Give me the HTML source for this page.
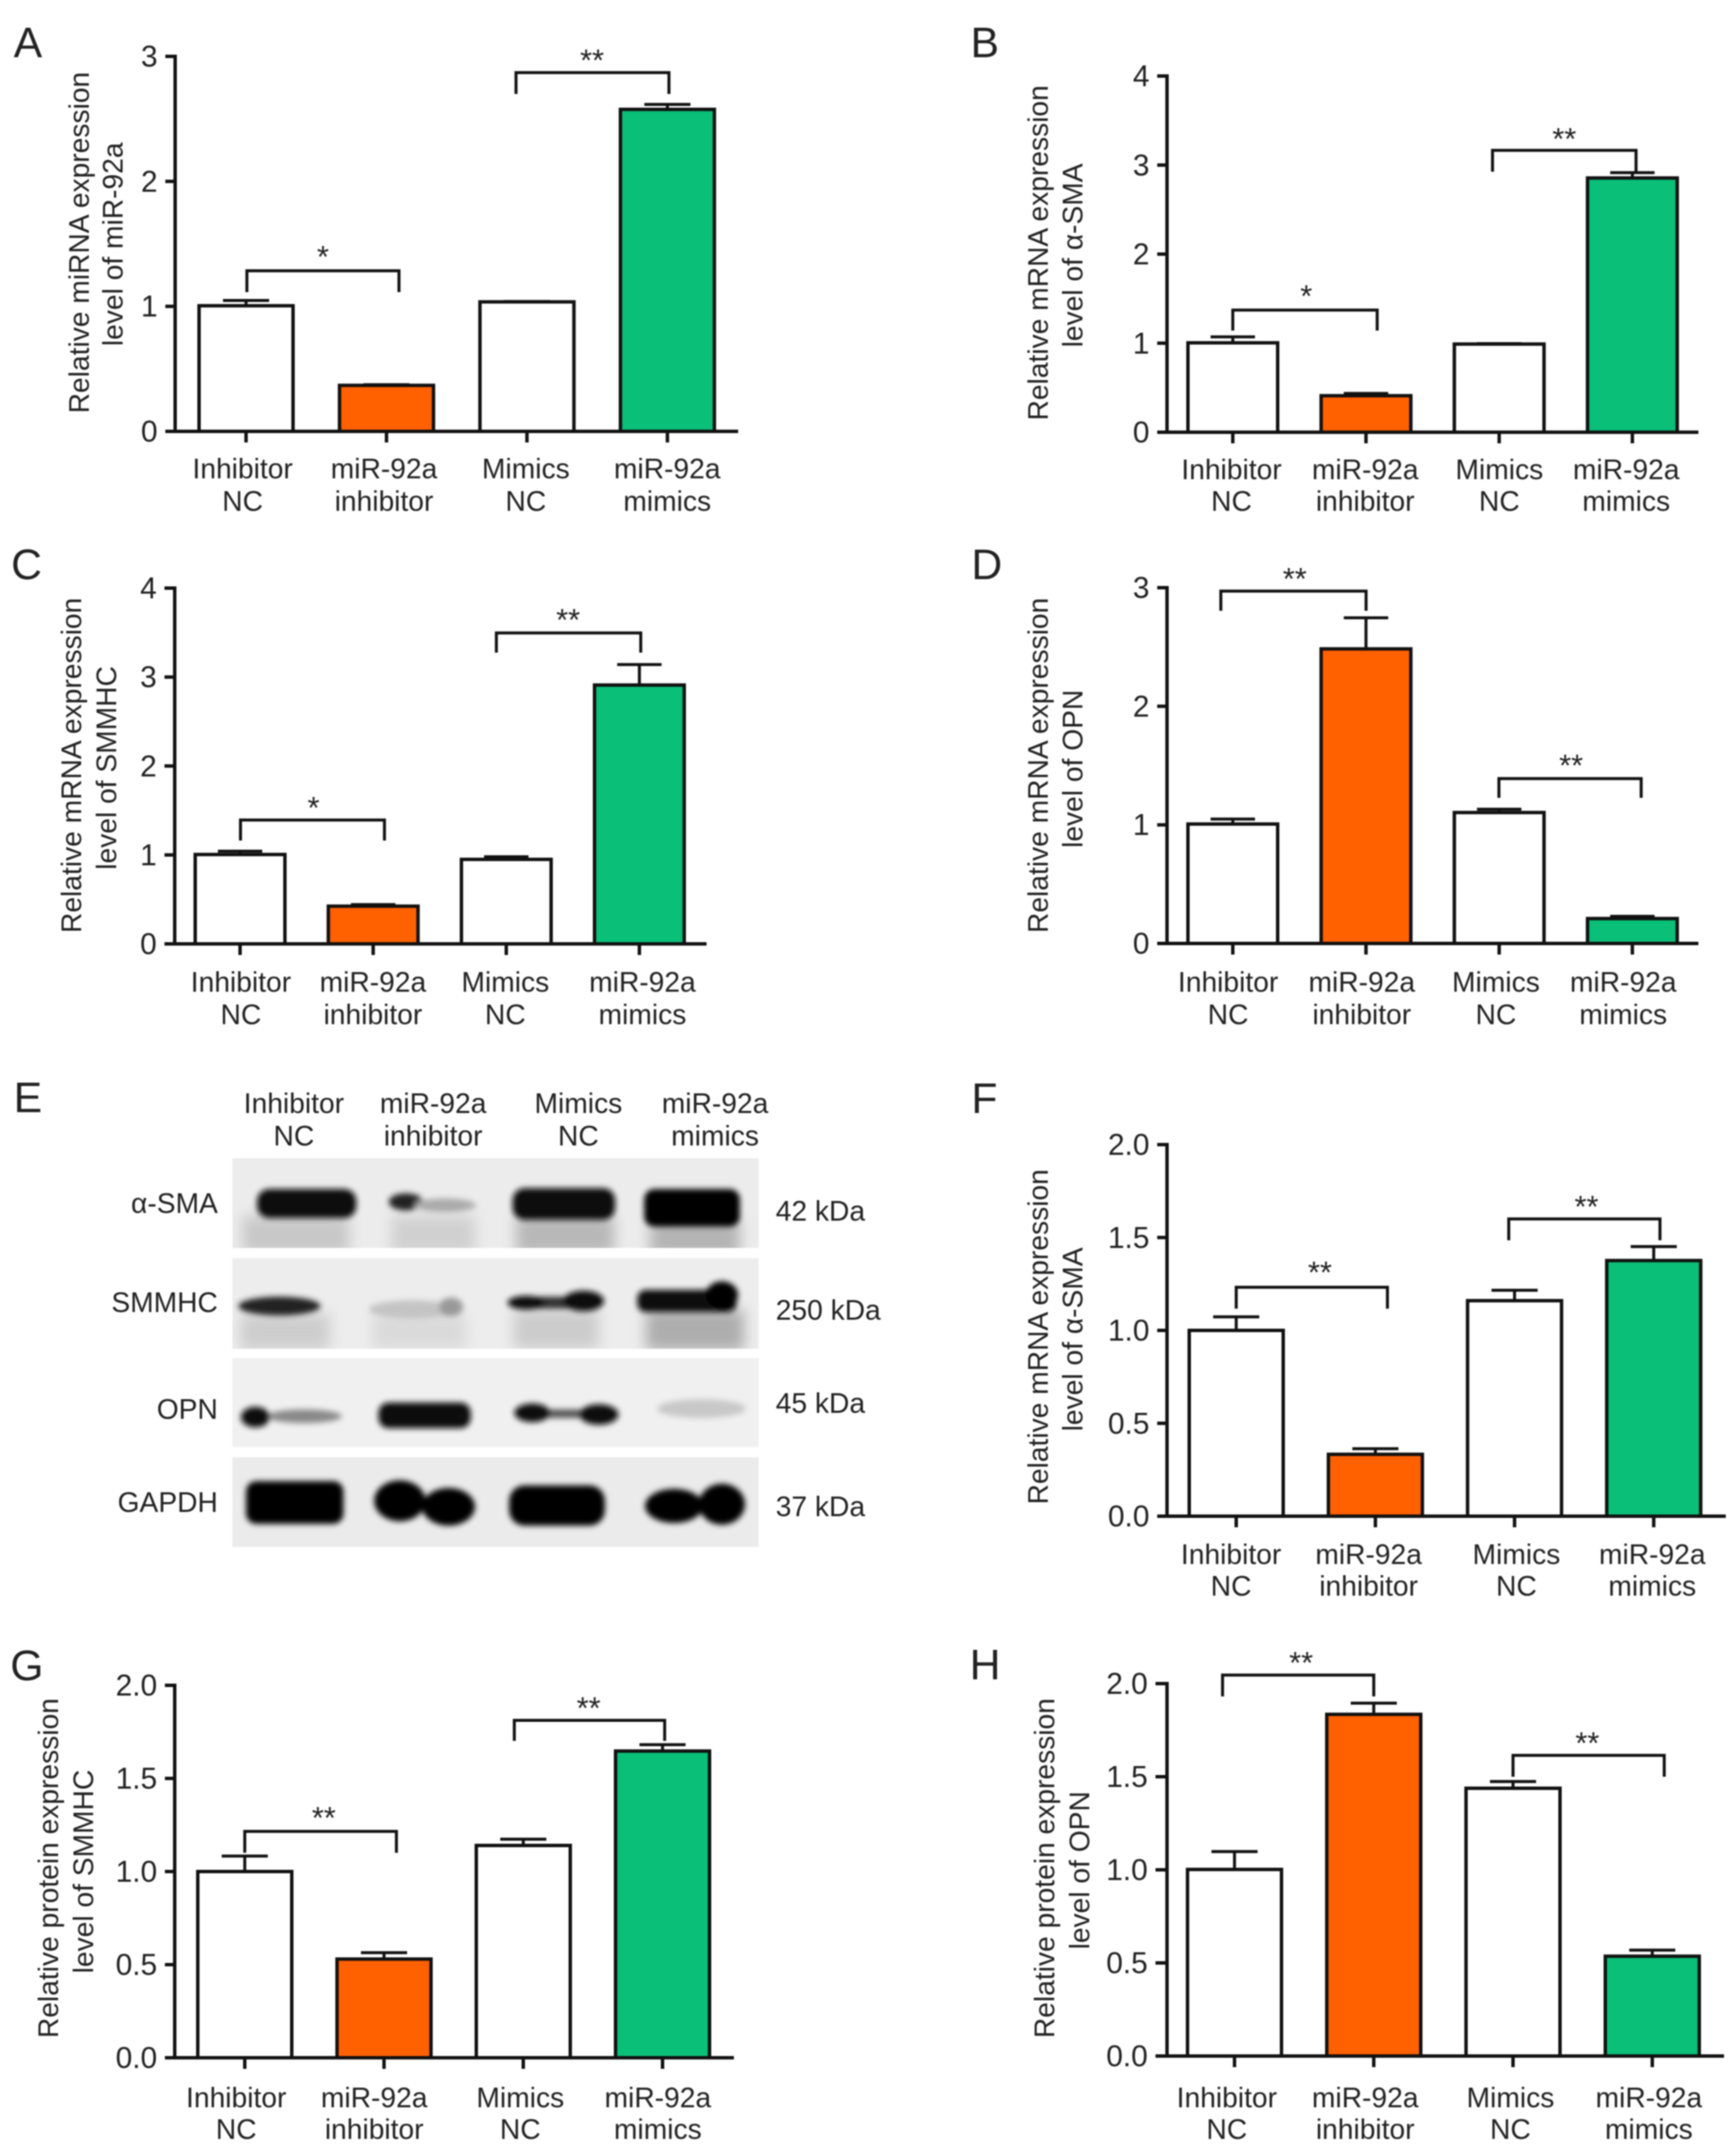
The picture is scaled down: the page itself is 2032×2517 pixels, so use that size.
<!DOCTYPE html>
<html lang="en">
<head>
<meta charset="utf-8">
<title>miR-92a expression figure</title>
<style>
html,body{margin:0;padding:0;background:#fff}
svg{display:block;font-family:"Liberation Sans",Arial,sans-serif}
#figure{filter:blur(.7px)}
text{fill:#222}
</style>
</head>
<body>
<svg id="figure" xmlns="http://www.w3.org/2000/svg" width="2032" height="2517" viewBox="0 0 2032 2517">
<defs>
<filter id="b2" x="-40%" y="-80%" width="180%" height="260%"><feGaussianBlur stdDeviation="3.5"/></filter>
<filter id="b8" x="-40%" y="-80%" width="180%" height="260%"><feGaussianBlur stdDeviation="8"/></filter>
</defs>
<rect width="2032" height="2517" fill="#fff"/>

<g id="panel-e">
<text x="16" y="1302" font-size="50">E</text>
<g font-size="33" text-anchor="middle">
<text x="344" y="1303">Inhibitor</text>
<text x="344" y="1341">NC</text>
<text x="507" y="1303">miR-92a</text>
<text x="507" y="1341">inhibitor</text>
<text x="677" y="1303">Mimics</text>
<text x="677" y="1341">NC</text>
<text x="837" y="1303">miR-92a</text>
<text x="837" y="1341">mimics</text>
</g>
<g font-size="33" text-anchor="end">
<text x="255" y="1420">α-SMA</text>
<text x="255" y="1536">SMMHC</text>
<text x="255" y="1661">OPN</text>
<text x="255" y="1770">GAPDH</text>
</g>
<g font-size="33">
<text x="908" y="1429">42 kDa</text>
<text x="908" y="1545">250 kDa</text>
<text x="908" y="1654">45 kDa</text>
<text x="908" y="1775">37 kDa</text>
</g>

<svg x="272" y="1356" width="616" height="105" viewBox="276 1358 616 105">
<rect x="276" y="1358" width="616" height="105" fill="#ececec"/>
<g filter="url(#b8)"><rect x="288" y="1425" width="125" height="45" fill="#c8c8c8"/><rect x="462" y="1425" width="98" height="45" fill="#d0d0d0"/><rect x="608" y="1425" width="115" height="45" fill="#b8b8b8"/><rect x="765" y="1430" width="105" height="42" fill="#b4b4b4"/></g>
<g filter="url(#b2)"><rect x="305" y="1394" width="116" height="34" rx="14" fill="#0a0a0a"/><ellipse cx="479" cy="1409" rx="20" ry="10" fill="#222"/><ellipse cx="525" cy="1413" rx="36" ry="8" fill="#aaa"/><rect x="604" y="1393" width="120" height="37" rx="14" fill="#0a0a0a"/><rect x="758" y="1394" width="112" height="44" rx="12" fill="#050505"/></g>
</svg>
<svg x="272" y="1473" width="616" height="106" viewBox="276 1475 616 106">
<rect x="276" y="1475" width="616" height="106" fill="#ededed"/>
<g filter="url(#b8)"><rect x="285" y="1540" width="105" height="42" fill="#cdcdcd"/><rect x="440" y="1540" width="110" height="42" fill="#dadada"/><rect x="605" y="1535" width="100" height="46" fill="#cccccc"/><rect x="760" y="1535" width="115" height="48" fill="#adadad"/></g>
<g filter="url(#b2)"><ellipse cx="331" cy="1531" rx="48" ry="11" fill="#222"/><ellipse cx="486" cy="1535" rx="50" ry="11" fill="#c4c4c4"/><ellipse cx="532" cy="1532" rx="14" ry="11" fill="#999"/><rect x="610" y="1520" width="84" height="14" rx="5" fill="#333"/><ellipse cx="620" cy="1527" rx="22" ry="8" fill="#111"/><ellipse cx="687" cy="1525" rx="24" ry="12" fill="#0a0a0a"/><rect x="750" y="1512" width="116" height="26" rx="10" fill="#0a0a0a"/><ellipse cx="849" cy="1518" rx="19" ry="16" fill="#050505"/></g>
</svg>
<svg x="272" y="1590" width="616" height="104" viewBox="276 1592 616 104">
<rect x="276" y="1592" width="616" height="104" fill="#f0f0f0"/>
<g filter="url(#b2)"><ellipse cx="360" cy="1660" rx="44" ry="8" fill="#888"/><ellipse cx="303" cy="1661" rx="17" ry="12" fill="#111"/><rect x="447" y="1644" width="108" height="30" rx="12" fill="#0d0d0d"/><rect x="625" y="1652" width="80" height="10" fill="#555"/><ellipse cx="627" cy="1656" rx="21" ry="11" fill="#111"/><ellipse cx="705" cy="1658" rx="23" ry="12" fill="#0d0d0d"/><ellipse cx="825" cy="1651" rx="52" ry="11" fill="#c8c8c8"/></g>
</svg>
<svg x="272" y="1706" width="616" height="105" viewBox="276 1708 616 105">
<rect x="276" y="1708" width="616" height="105" fill="#ebebeb"/>
<g filter="url(#b2)"><rect x="292" y="1736" width="114" height="50" rx="12" fill="#050505"/><ellipse cx="472" cy="1759" rx="30" ry="24" fill="#050505"/><ellipse cx="529" cy="1766" rx="31" ry="22" fill="#050505"/><rect x="600" y="1741" width="112" height="47" rx="18" fill="#050505"/><ellipse cx="793" cy="1765" rx="34" ry="20" fill="#050505"/><ellipse cx="849" cy="1763" rx="27" ry="24" fill="#050505"/></g>
</svg>
</g>
</svg>

<script>
// Shared chart data
const categoriesLine1 = ['Inhibitor', 'miR-92a', 'Mimics', 'miR-92a'];
const categoriesLine2 = ['NC', 'inhibitor', 'NC', 'mimics'];
const barColors = ['#ffffff', '#ff6000', '#ffffff', '#0abf78'];

const ticksToThree = ['0', '1', '2', '3'];
const ticksToFour = ['0', '1', '2', '3', '4'];
const ticksToTwoDecimal = ['0.0', '0.5', '1.0', '1.5', '2.0'];

const valuesA = [1.005, 0.368, 1.036, 2.576];
const errorsA = [0.042, 0.005, 0.003, 0.040];
const valuesB = [1.004, 0.410, 0.990, 2.855];
const errorsB = [0.067, 0.025, 0.005, 0.060];
const valuesC = [1.005, 0.424, 0.950, 2.910];
const errorsC = [0.037, 0.018, 0.030, 0.230];
const valuesD = [1.007, 2.484, 1.104, 0.210];
const errorsD = [0.042, 0.262, 0.028, 0.019];
const valuesF = [1.000, 0.333, 1.160, 1.376];
const errorsF = [0.073, 0.030, 0.056, 0.075];
const valuesG = [1.000, 0.530, 1.140, 1.647];
const errorsG = [0.083, 0.034, 0.034, 0.034];
const valuesH = [1.002, 1.835, 1.438, 0.536];
const errorsH = [0.096, 0.060, 0.036, 0.033];

const panels = [
  {key:'a', letter:'A', letterX:16, letterY:67, values:valuesA, errors:errorsA, ticks:ticksToThree,
   axisX:205, axisLeft:193.5, axisRight:864, yTop:66, y0:505, x0:288, step:164.4, barW:110, capW:54,
   title:['Relative miRNA expression','level of miR-92a'], titleX:[94,133.5], titleY:[284,286],
   labelX:[284,449.5,615.5,781], labelY:[551,589],
   brackets:[{x1:289,x2:467,top:317,bottom:342,text:'*',tx:378,ty:296},{x1:604,x2:783,top:85,bottom:110,text:'**',tx:693,ty:66}]},
  {key:'b', letter:'B', letterX:1136, letterY:67, values:valuesB, errors:errorsB, ticks:ticksToFour,
   axisX:1366, axisLeft:1354.5, axisRight:1988, yTop:89, y0:506, x0:1443, step:155.9, barW:105, capW:52,
   title:['Relative mRNA expression','level of α-SMA'], titleX:[1216.5,1257], titleY:[296,299],
   labelX:[1441.5,1598,1755,1903.5], labelY:[552,589],
   brackets:[{x1:1443,x2:1612,top:363,bottom:387,text:'*',tx:1529,ty:342},{x1:1747,x2:1915,top:176,bottom:201,text:'**',tx:1831,ty:158}]},
  {key:'c', letter:'C', letterX:13, letterY:678, values:valuesC, errors:errorsC, ticks:ticksToFour,
   axisX:204.5, axisLeft:192.5, axisRight:827, yTop:688.5, y0:1105, x0:281, step:155.8, barW:105, capW:52,
   title:['Relative mRNA expression','level of SMMHC'], titleX:[85,126], titleY:[896,899],
   labelX:[282,436.5,591.5,752], labelY:[1152,1190],
   brackets:[{x1:281.5,x2:450,top:960,bottom:984,text:'*',tx:367,ty:941},{x1:581,x2:750,top:741,bottom:764,text:'**',tx:665,ty:721}]},
  {key:'d', letter:'D', letterX:1137, letterY:678, values:valuesD, errors:errorsD, ticks:ticksToThree,
   axisX:1366, axisLeft:1354.5, axisRight:1988, yTop:688, y0:1104.5, x0:1443, step:155.9, barW:105, capW:52,
   title:['Relative mRNA expression','level of OPN'], titleX:[1216.5,1257], titleY:[896,900],
   labelX:[1437.5,1594,1751,1900], labelY:[1152,1190],
   brackets:[{x1:1429,x2:1599,top:692,bottom:715,text:'**',tx:1515.5,ty:673},{x1:1754.5,x2:1921,top:911.5,bottom:934,text:'**',tx:1839,ty:891.5}]},
  {key:'f', letter:'F', letterX:1137, letterY:1303, values:valuesF, errors:errorsF, ticks:ticksToTwoDecimal,
   axisX:1366, axisLeft:1354.5, axisRight:2020, yTop:1340, y0:1775, x0:1447, step:162.9, barW:110, capW:54,
   title:['Relative mRNA expression','level of α-SMA'], titleX:[1216.5,1257], titleY:[1565,1568],
   labelX:[1441,1602,1775,1934], labelY:[1822,1859],
   brackets:[{x1:1447,x2:1624,top:1507,bottom:1532,text:'**',tx:1545,ty:1485},{x1:1766,x2:1943,top:1427,bottom:1452,text:'**',tx:1857,ty:1408}]},
  {key:'g', letter:'G', letterX:12, letterY:1967, values:valuesG, errors:errorsG, ticks:ticksToTwoDecimal,
   axisX:204.5, axisLeft:193, axisRight:859, yTop:1973, y0:2409, x0:286.5, step:163, barW:110, capW:54,
   title:['Relative protein expression','level of SMMHC'], titleX:[58,99], titleY:[2187,2191],
   labelX:[276.5,438,609,770], labelY:[2458,2495],
   brackets:[{x1:286.5,x2:464,top:2144,bottom:2169,text:'**',tx:379,ty:2123.5},{x1:602,x2:778,top:2014,bottom:2038,text:'**',tx:689,ty:1995}]},
  {key:'h', letter:'H', letterX:1135, letterY:1966, values:valuesH, errors:errorsH, ticks:ticksToTwoDecimal,
   axisX:1366, axisLeft:1352.5, axisRight:2018, yTop:1971, y0:2407, x0:1445, step:163, barW:110, capW:54,
   title:['Relative protein expression','level of OPN'], titleX:[1224,1265], titleY:[2187,2189.5],
   labelX:[1436,1598,1768,1930], labelY:[2458,2495],
   brackets:[{x1:1431,x2:1608,top:1961,bottom:1986,text:'**',tx:1523,ty:1942},{x1:1771,x2:1948,top:2055,bottom:2080,text:'**',tx:1858,ty:2036}]}
];

const SVG_NS = 'http://www.w3.org/2000/svg';
const root = document.getElementById('figure');

function make(tag, attrs, parent) {
  const el = document.createElementNS(SVG_NS, tag);
  for (const k in attrs) el.setAttribute(k, attrs[k]);
  parent.appendChild(el);
  return el;
}

function drawPanel(p) {
  const top = Number(p.ticks[p.ticks.length - 1]);
  const yScale = v => p.y0 - (v / top) * (p.y0 - p.yTop);
  const xScale = i => p.x0 + i * p.step;

  const g = make('g', {}, root);
  
  

  const letter = make('text', {x:p.letterX, y:p.letterY, 'font-size':50}, g);
  letter.textContent = p.letter;
  
  

  p.title.forEach((line, i) => {
    const tx = p.titleX[i] + 10, ty = p.titleY[i];
    const t = make('text', {x:tx, y:ty, 'font-size':33, 'text-anchor':'middle', transform:'rotate(-90 ' + tx + ' ' + ty + ')'}, g);
    t.textContent = line;
    
    
  });

  p.values.forEach((v, i) => {
    const cx = xScale(i);
    const yv = yScale(v);
    const yErr = yScale(v + p.errors[i]);
    const stem = make('line', {x1:cx, x2:cx, y1:yv, y2:yErr, stroke:'#111', 'stroke-width':3.5}, g);
    
    
    const cap = make('line', {x1:cx - p.capW / 2, x2:cx + p.capW / 2, y1:yErr, y2:yErr, stroke:'#111', 'stroke-width':3.5}, g);
    
    
    const bar = make('rect', {x:cx - p.barW / 2, y:yv, width:p.barW, height:p.y0 - yv, fill:barColors[i], stroke:'#111', 'stroke-width':4}, g);
    
    
  });

  const yAxis = make('line', {x1:p.axisX, x2:p.axisX, y1:p.yTop - 2, y2:p.y0 + 2, stroke:'#111', 'stroke-width':4}, g);
  
  
  const xAxis = make('line', {x1:p.axisLeft, x2:p.axisRight, y1:p.y0, y2:p.y0, stroke:'#111', 'stroke-width':4}, g);
  
  

  p.ticks.forEach(label => {
    const y = yScale(Number(label));
    const tick = make('line', {x1:p.axisLeft, x2:p.axisX, y1:y, y2:y, stroke:'#111', 'stroke-width':4}, g);
    
    
    const tl = make('text', {x:p.axisLeft - 9, y:y + 12, 'font-size':35, 'text-anchor':'end'}, g);
    tl.textContent = label;
    
    
  });

  categoriesLine1.forEach((name, i) => {
    const tx = xScale(i);
    const tick = make('line', {x1:tx, x2:tx, y1:p.y0, y2:p.y0 + 13, stroke:'#111', 'stroke-width':4}, g);
    
    
    const l1 = make('text', {x:p.labelX[i], y:p.labelY[0] + 9, 'font-size':33, 'text-anchor':'middle'}, g);
    l1.textContent = name;
    
    
    const l2 = make('text', {x:p.labelX[i], y:p.labelY[1] + 9, 'font-size':33, 'text-anchor':'middle'}, g);
    l2.textContent = categoriesLine2[i];
    
    
  });

  p.brackets.forEach((b, i) => {
    const path = make('path', {d:'M' + b.x1 + ' ' + b.bottom + 'V' + b.top + 'H' + b.x2 + 'V' + b.bottom, fill:'none', stroke:'#111', 'stroke-width':3.5}, g);
    
    
    const star = make('text', {x:b.tx, y:b.ty + 17, 'font-size':36, 'text-anchor':'middle'}, g);
    star.textContent = b.text;
    
    
  });
}

panels.forEach(drawPanel);
</script>
</body>
</html>
